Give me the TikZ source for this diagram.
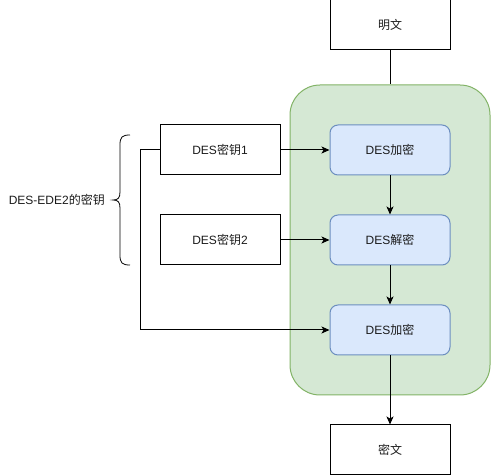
\documentclass[tikz,border=0pt]{standalone}
\usepackage{fontspec}
\setmainfont{Liberation Sans}
\newfontfamily\zhfont{Noto Sans CJK SC}
\newcommand{\zh}[1]{{\zhfont #1}}
\usetikzlibrary{arrows.meta}
\definecolor{grpfill}{HTML}{D5E8D4}
\definecolor{grpline}{HTML}{82B366}
\definecolor{opfill}{HTML}{DAE8FC}
\definecolor{opline}{HTML}{6C8EBF}
\definecolor{txt}{HTML}{1A1A1A}
\begin{document}
\begin{tikzpicture}[x=1pt, y=-1pt,
    every node/.style={font=\fontsize{12}{14}\selectfont, text=txt},
    plainbox/.style={draw, line width=1pt, minimum width=120pt, minimum height=50pt, inner sep=0pt},
    opbox/.style={draw=opline, fill=opfill, line width=1pt, rounded corners=8pt, minimum width=120pt, minimum height=50pt, inner sep=0pt},
    flow/.style={line width=1pt, -{Stealth[length=8pt,width=7pt,inset=2pt]}}]
			\useasboundingbox (0,0) rectangle (491,476);
			% Container for the three DES stages
			\node[draw=grpline, fill=grpfill, line width=1pt, rounded corners=30pt, minimum width=200pt, minimum height=310pt] (stages) at (390,240) {};
			
			\node[plainbox] (plain) at (390,25) {\zh{明文}};
			\node[opbox] (enc1) at (390,150) {DES\zh{加密}};
			\node[opbox] (dec) at (390,240) {DES\zh{解密}};
			\node[opbox] (enc2) at (390,330) {DES\zh{加密}};
			\node[plainbox] (cipher) at (390,450) {\zh{密文}};
			
			\node[plainbox] (key1) at (220,150) {DES\zh{密钥}1};
			\node[plainbox] (key2) at (220,240) {DES\zh{密钥}2};
			
			\node[anchor=east, inner sep=0pt] (keylabel) at (105,200) {DES-EDE2\zh{的密钥}};
			\coordinate (bend) at (140,330);
			
			\draw[line width=1pt] (plain) -- (stages);
			\draw[flow] (key1) -- (enc1);
			\draw[flow] (key2) -- (dec);
			\draw[flow] (enc1) -- (dec);
			\draw[flow] (dec) -- (enc2);
			\draw[flow] (enc2) -- (cipher);
			\draw[flow] (key1.west) -| (bend) -- (enc2.west);
			
			% Brace grouping both keys
			\draw[line width=0.8pt] (130,135) .. controls (122,135) and (120,137) .. (120,145) -- (120,192)
			    .. controls (120,198) and (118,200) .. (113,200)
			    .. controls (118,200) and (120,202) .. (120,208) -- (120,255)
			    .. controls (120,263) and (122,265) .. (130,265);
		\end{tikzpicture}
\end{document}
